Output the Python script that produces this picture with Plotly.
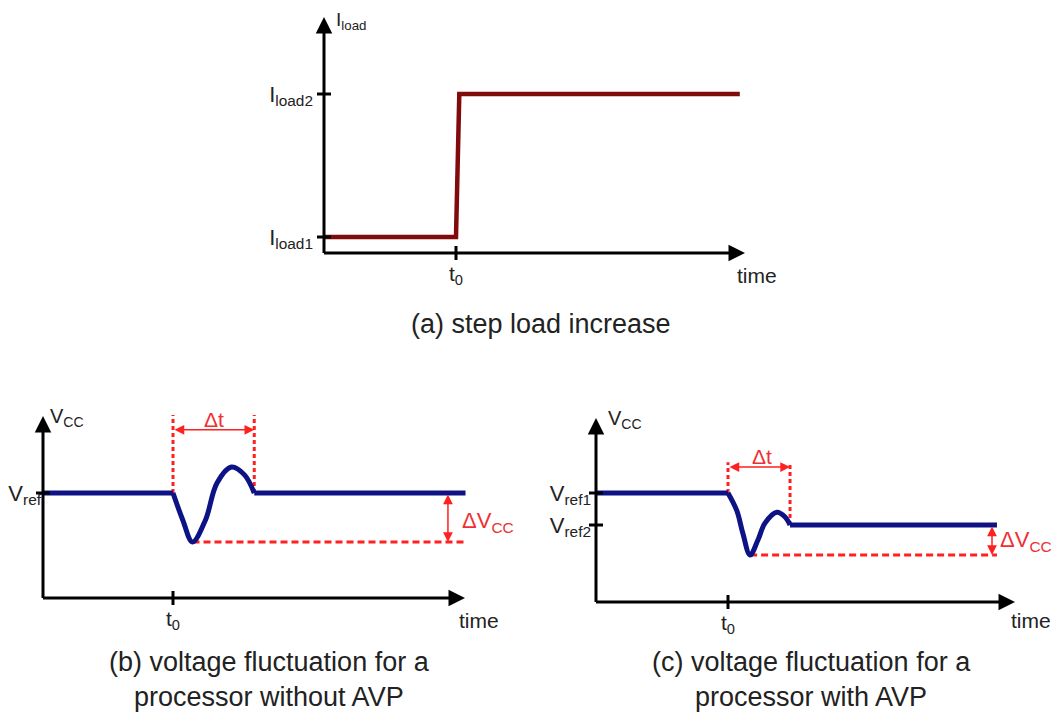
import plotly.graph_objects as go

W, H = 1053, 714

# ---------------- data ----------------
T0 = 4.0                      # instant of the load step

# (a) step load increase
load_time = [0.0, 4.0, 4.1, 12.6]
load_current = [2.0, 2.0, 10.0, 10.0]
load_levels = [2.0, 10.0]
load_level_text = ["I<sub>load1</sub>", "I<sub>load2</sub>"]

# (b) Vcc response without AVP
b_time = [0.0, 4.0, 4.3, 4.6, 5.0, 5.35, 5.8, 6.2, 6.5, 13.0]
b_vcc = [1.20, 1.20, 1.145, 1.10, 1.145, 1.22, 1.253, 1.237, 1.20, 1.20]
b_vref = 1.20
b_vmin = 1.10
b_settle = 6.5
b_levels = [1.20]
b_level_text = ["V<sub>ref</sub>"]

# (c) Vcc response with AVP
c_time = [0.0, 4.0, 4.27, 4.45, 4.67, 4.91, 5.12, 5.48, 5.73, 5.88, 12.15]
c_vcc = [1.20, 1.20, 1.172, 1.137, 1.103, 1.127, 1.153, 1.170, 1.1625, 1.15, 1.15]
c_vref1, c_vref2 = 1.20, 1.15
c_vmin = 1.103
c_settle = 5.88
c_levels = [1.20, 1.15]
c_level_text = ["V<sub>ref1</sub>", "V<sub>ref2</sub>"]

time_ticks = [T0]
time_tick_text = ["t<sub>0</sub>"]

# ---------------- styling ----------------
FONT = "Liberation Sans, Arial, sans-serif"
TXT = "#222222"
RED = "#FF2020"
RED_TXT = "#EE3035"
NAVY = "#0D1285"
MAROON = "#7F0B0B"


def px(x, y):
    """pixel position -> paper coordinates"""
    return x / W, 1 - y / H


def lin(cal, p):
    v0, p0, v1, p1 = cal
    return v0 + (p - p0) * (v1 - v0) / (p1 - p0)


# panel frames: axis calibration (value, pixel pairs), domain extents and axis origin
panels = {
    "a": dict(xcal=(0, 324, 4, 456), ycal=(2, 237, 10, 94),
              xdom=(316, 770), ydom=(262, 8), origin=(324, 253), xtip=745, ytip=17,
              yvals=load_levels, ytext=load_level_text, ystand=11),
    "b": dict(xcal=(0, 43, 4, 173), ycal=(1.20, 493, 1.10, 542),
              xdom=(36, 480), ydom=(606, 405), origin=(43, 598), xtip=465, ytip=416,
              yvals=b_levels, ytext=b_level_text, ystand=2),
    "c": dict(xcal=(0, 596, 4, 728), ycal=(1.20, 493, 1.15, 525),
              xdom=(588, 1030), ydom=(610, 408), origin=(596, 602), xtip=1015, ytip=418,
              yvals=c_levels, ytext=c_level_text, ystand=5),
}

fig = go.Figure()
layout = dict(
    width=W, height=H, margin=dict(l=0, r=0, t=0, b=0),
    paper_bgcolor="white", plot_bgcolor="rgba(0,0,0,0)",
    showlegend=False, hovermode=False,
    font=dict(family=FONT, color=TXT, size=20),
)
annotations = []
shapes = []

for i, (key, p) in enumerate(panels.items()):
    n = "" if i == 0 else str(i + 1)
    xd0, xd1 = p["xdom"]
    yd_bot, yd_top = p["ydom"]
    ox, oy = p["origin"]
    layout["xaxis" + n] = dict(
        domain=[xd0 / W, xd1 / W],
        range=[lin(p["xcal"], xd0), lin(p["xcal"], xd1)],
        anchor="free", position=1 - oy / H,
        showgrid=False, zeroline=False, showline=False, ticks="",
        tickvals=time_ticks, ticktext=time_tick_text,
        tickfont=dict(family=FONT, size=21, color=TXT),
        ticklabelstandoff=6, fixedrange=True,
    )
    layout["yaxis" + n] = dict(
        domain=[1 - yd_bot / H, 1 - yd_top / H],
        range=[lin(p["ycal"], yd_bot), lin(p["ycal"], yd_top)],
        anchor="free", position=ox / W,
        showgrid=False, zeroline=False, showline=False, ticks="",
        tickvals=p["yvals"], ticktext=p["ytext"],
        tickfont=dict(family=FONT, size=22, color=TXT),
        ticklabelstandoff=p["ystand"], fixedrange=True,
    )
    # axis arrows
    tx, ty = px(p["xtip"], oy)
    annotations.append(dict(x=tx, y=ty, xref="paper", yref="paper", text="",
                            showarrow=True, ax=(ox - 1.5) - p["xtip"], ay=0,
                            arrowhead=2, arrowsize=1.1, arrowwidth=3, arrowcolor="black"))
    tx, ty = px(ox, p["ytip"])
    annotations.append(dict(x=tx, y=ty, xref="paper", yref="paper", text="",
                            showarrow=True, ax=0, ay=(oy + 1.5) - p["ytip"],
                            arrowhead=2, arrowsize=1.1, arrowwidth=3, arrowcolor="black"))
    # crossing tick marks
    xr = "x" + n
    yr = "y" + n
    for tv in time_ticks:
        shapes.append(dict(type="line", xref=xr, yref="paper", x0=tv, x1=tv,
                           y0=1 - (oy + 7) / H, y1=1 - (oy - 7) / H,
                           line=dict(color="black", width=3)))
    for lv in p["yvals"]:
        shapes.append(dict(type="line", xref="paper", yref=yr, y0=lv, y1=lv,
                           x0=(ox - 7) / W, x1=(ox + 7) / W,
                           line=dict(color="black", width=3)))


def response(time, vcc, xa, ya):
    """flat lead-in, smooth transient, flat settled level"""
    style = dict(color=NAVY, width=5)
    fig.add_trace(go.Scatter(x=time[:2], y=vcc[:2], mode="lines", line=style,
                             xaxis=xa, yaxis=ya))
    fig.add_trace(go.Scatter(x=time[1:-1], y=vcc[1:-1], mode="lines",
                             line=dict(shape="spline", smoothing=1.0, **style),
                             xaxis=xa, yaxis=ya))
    fig.add_trace(go.Scatter(x=time[-2:], y=vcc[-2:], mode="lines", line=style,
                             xaxis=xa, yaxis=ya))


# ---------------- (a) ----------------
fig.add_trace(go.Scatter(x=load_time, y=load_current, mode="lines",
                         line=dict(color=MAROON, width=4.5), xaxis="x", yaxis="y"))

# ---------------- (b) ----------------
dash_v = "4px,3px"
dash_h = "7px,4px"
b_mark_top, b_arrow_lvl = 1.359, 1.329
for tv in (T0, b_settle):
    fig.add_trace(go.Scatter(x=[tv, tv], y=[b_vref, b_mark_top], mode="lines",
                             line=dict(color=RED, width=3, dash=dash_v), xaxis="x2", yaxis="y2"))
fig.add_trace(go.Scatter(x=[b_time[3], b_time[-1]], y=[b_vmin, b_vmin], mode="lines",
                         line=dict(color=RED, width=3, dash=dash_h), xaxis="x2", yaxis="y2"))
response(b_time, b_vcc, "x2", "y2")
annotations.append(dict(x=b_settle, y=b_arrow_lvl, ax=T0, ay=b_arrow_lvl,
                        xref="x2", yref="y2", axref="x2", ayref="y2", text="",
                        showarrow=True, arrowside="end+start", arrowhead=2,
                        arrowsize=1.3, arrowwidth=1.5, arrowcolor=RED))
annotations.append(dict(x=12.46, y=b_vmin, ax=12.46, ay=b_vref,
                        xref="x2", yref="y2", axref="x2", ayref="y2", text="",
                        showarrow=True, arrowside="end+start", arrowhead=2,
                        arrowsize=1.3, arrowwidth=1.5, arrowcolor=RED))

# ---------------- (c) ----------------
c_mark_top, c_arrow_lvl = 1.248, 1.2406
for tv, lv in ((T0, c_vref1), (c_settle, c_vref2)):
    fig.add_trace(go.Scatter(x=[tv, tv], y=[lv, c_mark_top], mode="lines",
                             line=dict(color=RED, width=3, dash=dash_v), xaxis="x3", yaxis="y3"))
fig.add_trace(go.Scatter(x=[c_time[4], c_time[-1]], y=[c_vmin, c_vmin], mode="lines",
                         line=dict(color=RED, width=3, dash=dash_h), xaxis="x3", yaxis="y3"))
response(c_time, c_vcc, "x3", "y3")
annotations.append(dict(x=c_settle, y=c_arrow_lvl, ax=T0, ay=c_arrow_lvl,
                        xref="x3", yref="y3", axref="x3", ayref="y3", text="",
                        showarrow=True, arrowside="end+start", arrowhead=2,
                        arrowsize=1.3, arrowwidth=1.5, arrowcolor=RED))
annotations.append(dict(x=12.0, y=c_vmin, ax=12.0, ay=c_vref2,
                        xref="x3", yref="y3", axref="x3", ayref="y3", text="",
                        showarrow=True, arrowside="end+start", arrowhead=2,
                        arrowsize=1.3, arrowwidth=1.5, arrowcolor=RED))


# ---------------- text ----------------
def label(text, x, y, size=20, color=TXT, xanchor="center", yanchor="middle"):
    lx, ly = px(x, y)
    annotations.append(dict(x=lx, y=ly, xref="paper", yref="paper", text=text,
                            showarrow=False, xanchor=xanchor, yanchor=yanchor,
                            font=dict(family=FONT, size=size, color=color)))


label("I<sub>load</sub>", 334, 21, size=19, xanchor="left")
label("V<sub>CC</sub>", 48, 417, size=20, xanchor="left")
label("V<sub>CC</sub>", 606, 419, size=20, xanchor="left")
label("time", 757, 275, size=21)
label("time", 479, 620, size=21)
label("time", 1031, 620, size=21)
label("Δt", 214, 419, size=21, color=RED_TXT)
label("Δt", 762, 457, size=21, color=RED_TXT)
label("ΔV<sub>CC</sub>", 460, 522, size=22, color=RED_TXT, xanchor="left")
label("ΔV<sub>CC</sub>", 998, 541, size=22, color=RED_TXT, xanchor="left")
label("(a) step load increase", 541, 324, size=27)
label("(b) voltage fluctuation for a<br>processor without AVP", 269, 679, size=27)
label("(c) voltage fluctuation for a<br>processor with AVP", 811, 679, size=27)

layout["annotations"] = annotations
layout["shapes"] = shapes
fig.update_layout(**layout)
fig.write_html("out.html")
